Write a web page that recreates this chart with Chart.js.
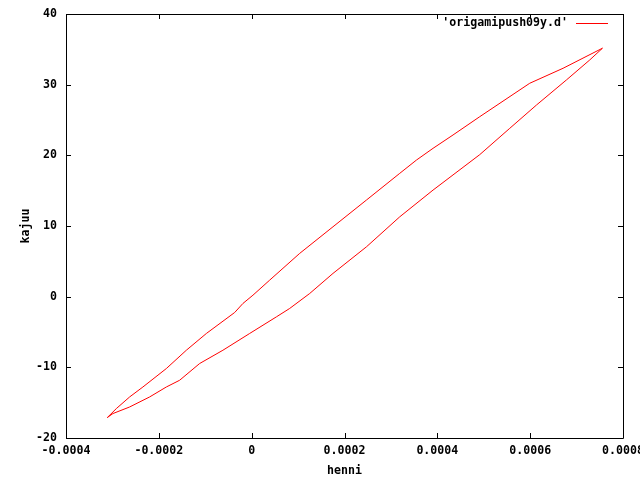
<!DOCTYPE html>
<html>
<head>
<meta charset="utf-8">
<script src="https://cdn.jsdelivr.net/npm/chart.js@4"></script>
<style>
  html, body { margin: 0; padding: 0; background: #fff; }
  #wrap { width: 640px; height: 480px; }
</style>
</head>
<body>
<div id="wrap"><canvas id="myChart"></canvas></div>
<script>
// data: loop, loading branch then unloading branch
const henni = [
  -0.000311, -0.0002916, -0.0002629, -0.0002343, -0.0001838, -0.0001407, -0.0000976,
  -0.0000366, -0.0000188, 0.0000028, 0.0000388, 0.0001034, 0.0001752, 0.0002472,
  0.000319, 0.000355, 0.0003907, 0.0004338, 0.0004914, 0.0005991, 0.0006709, 0.0007558,
  0.0007284, 0.0006782, 0.0006136, 0.000556, 0.0004914, 0.0003907, 0.000319,
  0.0002472, 0.0001752, 0.000125, 0.0000819, 0.0000532, -0.0000043, -0.0000619,
  -0.0001121, -0.0001552, -0.0001838, -0.0002198, -0.0002629, -0.0002989, -0.000311
];
const kajuu = [
  -17.11, -15.84, -14.19, -12.78, -10.17, -7.58, -5.21,
  -2.24, -0.96, 0.21, 2.34, 6.12, 9.89, 13.67,
  17.45, 19.33, 20.99, 22.88, 25.47, 30.20, 32.32, 35.16,
  33.50, 30.67, 27.12, 23.82, 20.1, 15.08, 11.30,
  7.05, 3.29, 0.45, -1.67, -2.86, -5.21, -7.58,
  -9.46, -11.83, -12.78, -14.19, -15.61, -16.54, -17.11
];
const xTicks = [-0.0004, -0.0002, 0, 0.0002, 0.0004, 0.0006, 0.0008];
const xTickLabels = ['-0.0004', '-0.0002', '0', '0.0002', '0.0004', '0.0006', '0.0008'];
const yTicks = [-20, -10, 0, 10, 20, 30, 40];
const yTickLabels = ['-20', '-10', '0', '10', '20', '30', '40'];
const seriesName = "'origamipush09y.d'";

const FONT = { family: '"DejaVu Sans Mono", monospace', size: 11.6, weight: 'bold' };

// gnuplot style frame, inward ticks and key
const gnuFrame = {
  id: 'gnuFrame',
  afterDraw(chart) {
    const { ctx, chartArea: a, scales } = chart;
    const t = 5;
    ctx.save();
    ctx.strokeStyle = '#000';
    ctx.lineWidth = 1;
    ctx.beginPath();
    ctx.rect(Math.round(a.left) + 0.5, Math.round(a.top) + 0.5,
             Math.round(a.right - a.left), Math.round(a.bottom - a.top));
    xTicks.forEach(v => {
      const px = Math.round(scales.x.getPixelForValue(v)) + 0.5;
      ctx.moveTo(px, a.bottom); ctx.lineTo(px, a.bottom - t);
      ctx.moveTo(px, a.top); ctx.lineTo(px, a.top + t);
    });
    yTicks.forEach(v => {
      const py = Math.round(scales.y.getPixelForValue(v)) + 0.5;
      ctx.moveTo(a.left, py); ctx.lineTo(a.left + t, py);
      ctx.moveTo(a.right, py); ctx.lineTo(a.right - t, py);
    });
    ctx.stroke();

    // key
    ctx.font = `${FONT.weight} ${FONT.size}px ${FONT.family}`;
    ctx.fillStyle = '#000';
    ctx.textAlign = 'right';
    ctx.textBaseline = 'middle';
    const ky = Math.round(a.top + 9);
    ctx.fillText(chart.data.datasets[0].label, a.right - 55, ky);
    ctx.fillStyle = chart.data.datasets[0].borderColor;
    ctx.fillRect(Math.round(a.right - 47), ky, 32, 1);
    ctx.restore();
  }
};

const ctx = document.getElementById('myChart');
const myChart = new Chart(ctx, {
  type: 'scatter',
  data: {
    datasets: [{
      label: seriesName,
      data: henni.map((x, i) => ({ x: x, y: kajuu[i] })),
      showLine: true,
      borderColor: '#ff0000',
      borderWidth: 1,
      pointRadius: 0,
      tension: 0,
      fill: false
    }]
  },
  options: {
    responsive: true,
    maintainAspectRatio: false,
    animation: false,
    layout: { padding: { top: 14, right: 17, left: 0, bottom: 0 } },
    plugins: { legend: { display: false }, tooltip: { enabled: false } },
    scales: {
      x: {
        type: 'linear',
        min: -0.0004, max: 0.0008,
        afterBuildTicks: s => { s.ticks = xTicks.map(v => ({ value: v })); },
        afterFit: s => { s.height = 42; s.paddingLeft = 0; s.paddingRight = 0; },
        ticks: {
          color: '#000', font: FONT, padding: 6, maxRotation: 0, autoSkip: false,
          callback: (v, i) => xTickLabels[i]
        },
        grid: { display: false, drawTicks: false },
        border: { display: false },
        title: { display: true, text: 'henni', color: '#000', font: FONT, padding: { bottom: 2 } }
      },
      y: {
        type: 'linear',
        min: -20, max: 40,
        afterBuildTicks: s => { s.ticks = yTicks.map(v => ({ value: v })); },
        afterFit: s => { s.width = 66; s.paddingTop = 0; s.paddingBottom = 0; },
        ticks: {
          color: '#000', font: FONT, padding: 9, autoSkip: false,
          callback: (v, i) => yTickLabels[i]
        },
        grid: { display: false, drawTicks: false },
        border: { display: false },
        title: { display: true, text: 'kajuu', color: '#000', font: FONT, padding: { top: 19 } }
      }
    }
  },
  plugins: [gnuFrame]
});
</script>
</body>
</html>
